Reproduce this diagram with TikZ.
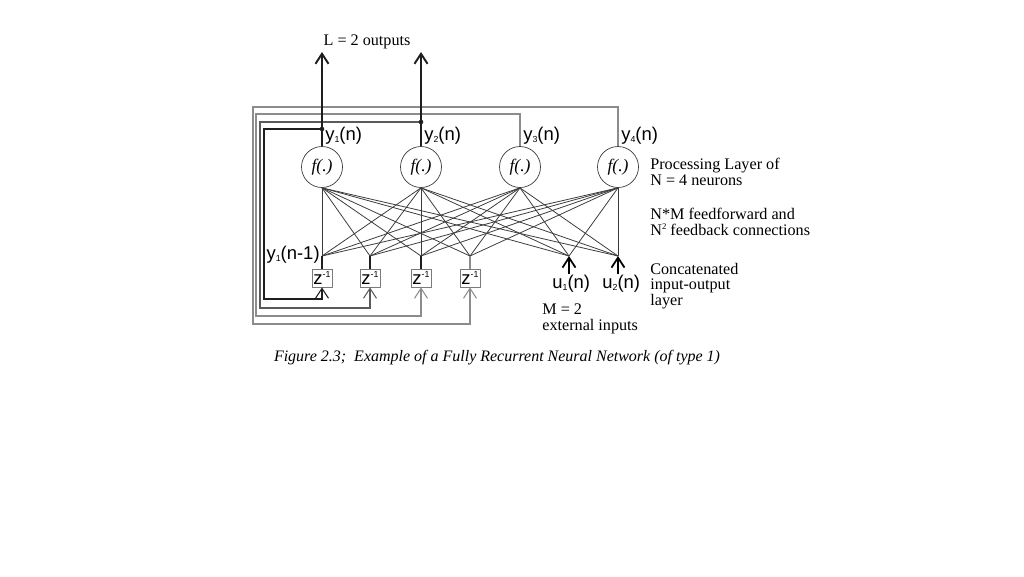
\documentclass[tikz,border=0pt]{standalone}
\usepackage{fontspec}
\setmainfont{Liberation Serif}
\setsansfont{Liberation Sans}
\usepackage{xcolor}
\usetikzlibrary{arrows.meta,positioning}
\definecolor{wiredark}{HTML}{1E1E1E}
\definecolor{wiregray}{HTML}{3C3C3C}
\definecolor{loopmid}{HTML}{5A5A5A}
\definecolor{looplight}{HTML}{8C8C8C}
\definecolor{boxgray}{HTML}{7A7A7A}
\newcommand{\signal}[3]{#1\raisebox{-0.3ex}{\fontsize{5}{5}\selectfont #2}(#3)}
\newcommand{\tinysup}[1]{\raisebox{0.75ex}{\fontsize{5}{5}\selectfont #1}}
\tikzset{
  neuron/.style={circle,draw=wiregray,fill=white,minimum size=0.82cm,inner sep=0pt,font=\fontsize{10}{10}\selectfont\itshape},
  delay/.style={rectangle,draw=boxgray,fill=white,minimum width=0.4cm,minimum height=0.36cm,inner sep=0pt,font=\sffamily\fontsize{10.5}{10.5}\selectfont},
  sig/.style={font=\sffamily\fontsize{10.5}{10.5}\selectfont,inner sep=0pt},
  note/.style={align=left,font=\fontsize{9.2}{8.6}\selectfont,inner sep=0pt},
  caption/.style={font=\fontsize{9.1}{9.1}\selectfont\itshape,inner sep=0pt},
  link/.style={draw=wiregray,line width=0.45pt},
  stub/.style={draw=wiredark,line width=1.1pt},
  arrow/.style={-{Straight Barb[length=2mm,width=2.6mm]},line width=0.6pt},
  outarrow/.style={-{Straight Barb[length=2mm,width=2.6mm]},line width=1.1pt,draw=wiredark}
}
\begin{document}
\begin{tikzpicture}[x=0.02cm,y=-0.02cm]
  \useasboundingbox (0,0) rectangle (1024,576);
  % processing layer
  \foreach \i/\x/\yt in {1/322/129,2/421/122,3/520/114,4/618/107}{
    \node[neuron] (f\i) at (\x,167) {f(.)};
    \coordinate (t\i) at (\x,\yt);
    \node[sig,anchor=base west] (y\i) at (\x+3,140) {\signal{y}{\i}{n}};
  }
  % delay elements and input junctions
  \foreach \i/\x in {1/322,2/370,3/421,4/470}{
    \node[delay] (z\i) at (\x,278) {z\tinysup{-1}};
    \coordinate (j\i) at (\x,256);
  }
  \coordinate (j5) at (569,256);
  \coordinate (j6) at (618,256);
  % feedforward and feedback connections
  \foreach \i in {1,...,4}
    \foreach \j in {1,...,6}
      \draw[link] (f\i.south) -- (j\j);
  \foreach \i in {1,2,3}
    \draw[stub] (z\i.north) -- (j\i);
  \draw[stub,draw=looplight] (z4.north) -- (j4);
  % feedback loops
  \foreach \i/\xl/\yb/\c in {4/253/324/looplight,3/256/316/looplight,2/260/308/loopmid,1/264/299/wiredark}
    \draw[arrow,draw=\c] (f\i.north) -- (t\i) -| (\xl,\yb) -| (z\i.south);
  \draw[stub] (f1.north) -- (t1);
  \draw[stub] (f2.north) -- (t2);
  % outputs
  \coordinate (o1) at (322,52);
  \coordinate (o2) at (421,52);
  \draw[outarrow] (t1) -- (o1);
  \draw[outarrow] (t2) -- (o2);
  \fill[wiredark] (t1) circle (1.3pt);
  \fill[wiredark] (t2) circle (1.3pt);
  \node[note,anchor=base] (outs) at (367,45) {L = 2 outputs};
  % external inputs
  \node[sig,anchor=base west] (u1) at (552,288) {\signal{u}{1}{n}};
  \node[sig,anchor=base west] (u2) at (602,288) {\signal{u}{2}{n}};
  \draw[arrow,line width=1pt] (u1.north -| j5) -- (j5);
  \draw[arrow,line width=1pt] (u2.north -| j6) -- (j6);
  \node[sig,anchor=base east] (yprev) at (320,259) {\signal{y}{1}{n-1}};
  % annotations
  \node[note,anchor=base west] (proc) at (650,185) {Processing Layer of\\N = 4 neurons};
  \node[note,anchor=base west] (conn) at (650,235) {N*M feedforward and\\N\tinysup{2} feedback connections};
  \node[note,anchor=base west] (layer) at (650,305) {Concatenated\\input-output\\layer};
  \node[note,anchor=base west] (ext) at (542,330) {M = 2\\external inputs};
  \node[caption,anchor=base] (cap) at (497,361) {Figure 2.3;\ \ Example of a Fully Recurrent Neural Network (of type 1)};
\end{tikzpicture}
\end{document}
